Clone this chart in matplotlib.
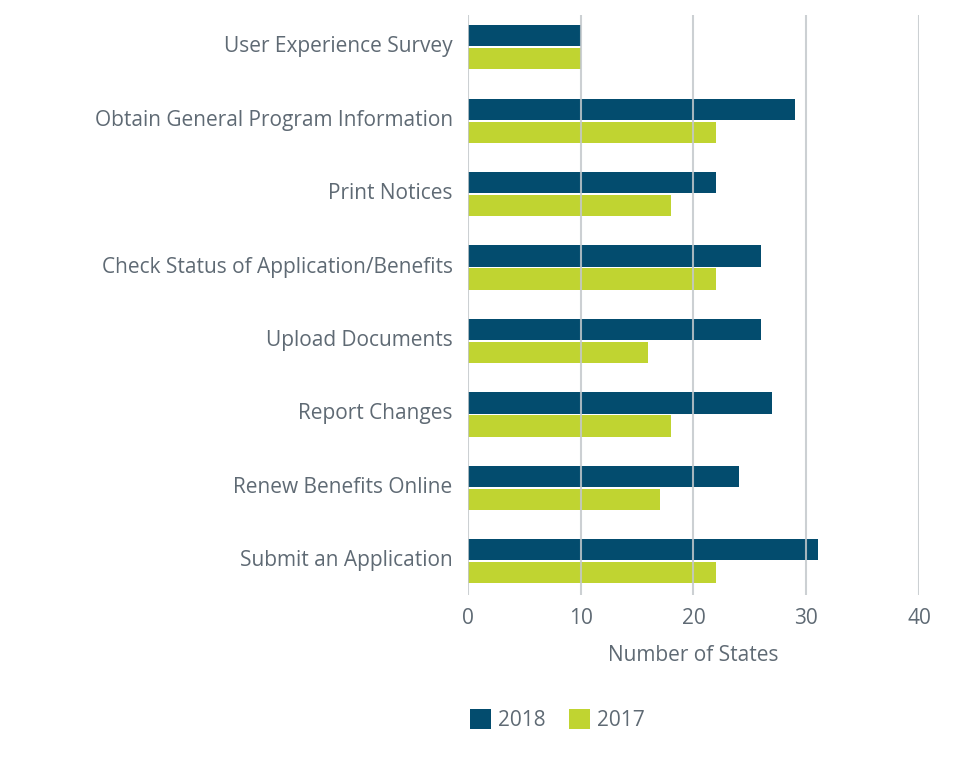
import numpy as np
import matplotlib.pyplot as plt

categories = ['User Experience Survey', 'Obtain General Program Information', 'Print Notices',
              'Check Status of Application/Benefits', 'Upload Documents', 'Report Changes',
              'Renew Benefits Online', 'Submit an Application']
vals_2018 = [10, 29, 22, 26, 26, 27, 24, 31]
vals_2017 = [10, 22, 18, 22, 16, 18, 17, 22]
xticks = [0, 10, 20, 30, 40]

navy = '#034c6e'
lime = '#c0d431'
txt = '#5f6a74'

plt.rcParams['font.family'] = ['Open Sans', 'DejaVu Sans']

fig = plt.figure(figsize=(9.79, 7.75), dpi=100)
ax = fig.add_axes([468 / 979, 1 - 595 / 775, (919 - 468) / 979, (595 - 15) / 775])

y = np.arange(len(categories))
h = 0.29
ax.barh(y - h / 2 - 0.012, vals_2018, height=h, color=navy, label='2018', zorder=1)
ax.barh(y + h / 2 + 0.012, vals_2017, height=h, color=lime, label='2017', zorder=1)

ax.set_xlim(0, 40)
ax.set_ylim(7.46, -0.44)
ax.set_xticks(xticks)
ax.set_yticks(y - 0.04)
ax.set_yticklabels(categories)
for s in ax.spines.values():
    s.set_visible(False)
ax.grid(axis='x', color='#c3c8cc', linewidth=1.5, alpha=0.85, zorder=3)
ax.set_axisbelow(False)
ax.tick_params(length=0, labelsize=15, colors=txt)
ax.tick_params(axis='y', pad=11)
ax.tick_params(axis='x', pad=9)
ax.set_xlabel('Number of States', fontsize=15, color=txt, labelpad=12)

leg = fig.legend(loc='center left', bbox_to_anchor=(470 / 979, 1 - 720 / 775), ncol=2,
                 frameon=False, fontsize=15, handlelength=1.0, handleheight=1.15,
                 columnspacing=1.1, handletextpad=0.35, borderpad=0, borderaxespad=0)
for t in leg.get_texts():
    t.set_color(txt)

fig.savefig('out.png', dpi=100)
